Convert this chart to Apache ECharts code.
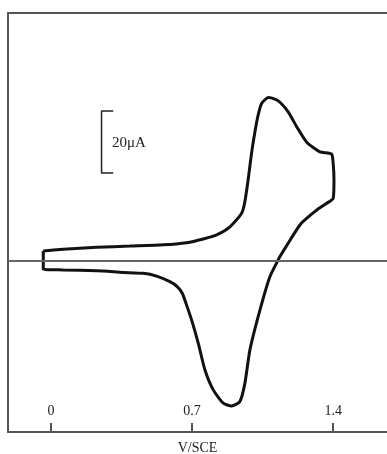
<!DOCTYPE html>
<html>
<head>
<meta charset="utf-8">
<script src="https://cdn.jsdelivr.net/npm/echarts@6/dist/echarts.min.js"></script>
<style>
  html, body { margin: 0; padding: 0; background: #fff; }
  #main { width: 387px; height: 454px; }
</style>
</head>
<body>
<div id="main"></div>
<script>
'use strict';

/* ===== data (V vs SCE, µA) ===== */
var loopV = [
  -0.038, 0.061, 0.227, 0.392, 0.557, 0.673, 0.756, 0.822, 0.888, 0.946,
  0.962, 0.979, 0.996, 1.012, 1.028, 1.045, 1.078, 1.111, 1.136, 1.177,
  1.219, 1.27, 1.334, 1.392, 1.400, 1.404, 1.400,
  1.368, 1.318, 1.268, 1.235, 1.186, 1.136, 1.126, 1.086, 1.037, 0.987,
  0.962, 0.937, 0.896, 0.855, 0.805, 0.764, 0.731, 0.698, 0.672, 0.652,
  0.625, 0.590, 0.524, 0.458, 0.359, 0.227, 0.061, -0.038, -0.038
];
var loopI = [
  3.0, 3.55, 4.2, 4.6, 5.0, 5.7, 6.9, 8.2, 10.8, 15.2,
  18.9, 26.4, 35.0, 41.5, 46.9, 50.6, 52.5, 52.0, 51.0, 47.9,
  43.1, 38.0, 35.0, 34.3, 31.3, 25.9, 20.0,
  18.4, 16.2, 13.5, 11.4, 6.5, 1.2, 0, -5.3, -16.0, -28.9,
  -39.7, -45.6, -47.0, -46.1, -41.8, -35.4, -26.8, -19.3, -14.3, -10.7,
  -8.4, -6.9, -5.1, -4.2, -3.9, -3.4, -3.1, -2.9, 3.0
];

// 20 µA scale bar
var barV = [0.309, 0.251, 0.251, 0.309];
var barI = [48.2, 48.2, 28.2, 28.2];
var barText = '20μA';

var tickValues = [0, 0.7, 1.4];
var axisName = 'V/SCE';

function pairs(xs, ys) {
  return xs.map(function (x, i) { return [x, ys[i]]; });
}

var serif = '"Liberation Serif", "DejaVu Serif", serif';
var frameColor = '#555';

var myChart = echarts.init(document.getElementById('main'));

var option = {
  animation: false,
  grid: { left: 8, right: 0, top: 13, bottom: 22, containLabel: false, outerBoundsMode: 'none' },
  xAxis: [
    {
      type: 'value',
      min: -0.213,
      max: 1.667,
      name: axisName,
      nameLocation: 'middle',
      nameGap: 9,
      nameTextStyle: { fontFamily: serif, fontSize: 14, color: '#222' },
      splitLine: { show: false },
      axisLine: { show: true, onZero: false, lineStyle: { color: frameColor, width: 2 } },
      axisTick: { show: true, inside: true, length: 9, customValues: tickValues,
        lineStyle: { color: frameColor, width: 2 } },
      axisLabel: { show: true, inside: true, margin: 14, customValues: tickValues,
        fontFamily: serif, fontSize: 14, color: '#222',
        formatter: function (v) { return String(v); } }
    },
    {
      type: 'value',
      position: 'top',
      min: -0.213,
      max: 1.667,
      splitLine: { show: false },
      axisLine: { show: true, onZero: false, lineStyle: { color: frameColor, width: 2 } },
      axisTick: { show: false },
      axisLabel: { show: false }
    }
  ],
  yAxis: {
    type: 'value',
    min: -55.4,
    max: 79.8,
    splitLine: { show: false },
    axisLine: { show: true, onZero: false, lineStyle: { color: frameColor, width: 2 } },
    axisTick: { show: false },
    axisLabel: { show: false }
  },
  series: [
    {
      type: 'line',
      data: pairs(loopV, loopI),
      showSymbol: false,
      smooth: 0.2,
      lineStyle: { color: '#111', width: 3 },
      silent: true,
      markLine: {
        silent: true,
        symbol: ['none', 'none'],
        label: { show: false },
        lineStyle: { color: '#666', width: 2, type: 'solid' },
        data: [{ yAxis: 0 }]
      }
    },
    {
      type: 'line',
      data: pairs(barV, barI),
      showSymbol: false,
      lineStyle: { color: '#222', width: 1.5 },
      silent: true
    }
  ],
  graphic: [
    {
      type: 'text',
      left: 112,
      top: 136,
      style: { text: barText, fontFamily: serif, fontSize: 15, fill: '#222' }
    }
  ]
};

myChart.setOption(option);
</script>
</body>
</html>
